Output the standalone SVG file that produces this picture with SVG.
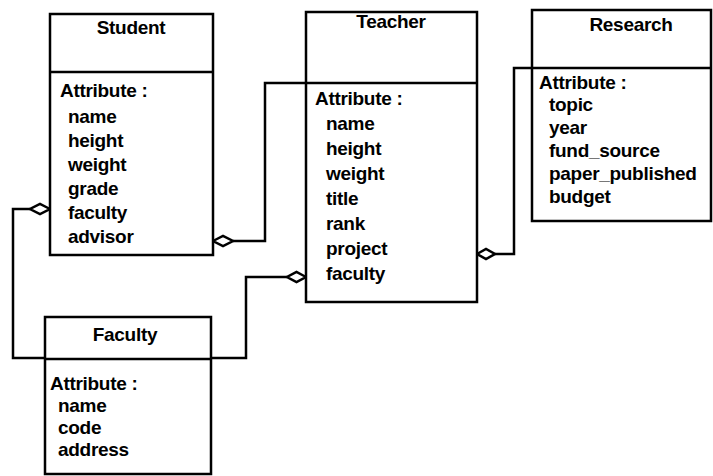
<svg xmlns="http://www.w3.org/2000/svg" width="713" height="476" viewBox="0 0 713 476">
<style>
  .box { fill: #ffffff; stroke: #000000; stroke-width: 2.5; }
  .div { stroke: #000000; stroke-width: 2.5; fill: none; }
  .t { font-family: "Liberation Sans", Arial, sans-serif; font-weight: bold; font-size: 19px; fill: #000000; letter-spacing: -0.3px; }
  .title { text-anchor: middle; }
  .conn { fill: none; stroke: #000000; stroke-width: 2.5; stroke-linejoin: miter; }
  .dia { fill: #ffffff; stroke: #000000; stroke-width: 2.5; }
</style>
<rect width="713" height="476" fill="#ffffff"/>

<g id="connectors">
  <polyline class="conn" points="30,209 13,209 13,358 45,358"/>
  <polygon class="dia" points="50,209 40,204 30,209 40,214"/>
  <polyline class="conn" points="233,241 265,241 265,83 306,83"/>
  <polygon class="dia" points="213,241 223,236 233,241 223,246"/>
  <polyline class="conn" points="287,277 246,277 246,358 211,358"/>
  <polygon class="dia" points="306,277 296.5,272 287,277 296.5,282"/>
  <polyline class="conn" points="495,254 514,254 514,68 532,68"/>
  <polygon class="dia" points="477,254 486,249 495,254 486,259"/>
</g>

<g id="student">
  <rect class="box" x="50" y="14" width="163" height="241"/>
  <line class="div" x1="50" y1="72" x2="213" y2="72"/>
  <text class="t title" x="131" y="34">Student</text>
  <text class="t" x="60" y="97">Attribute :</text>
  <text class="t" x="68" y="123">name</text>
  <text class="t" x="68" y="147">height</text>
  <text class="t" x="68" y="171">weight</text>
  <text class="t" x="68" y="195">grade</text>
  <text class="t" x="68" y="219">faculty</text>
  <text class="t" x="68" y="243">advisor</text>
</g>

<g id="teacher">
  <rect class="box" x="306" y="12" width="171" height="290"/>
  <line class="div" x1="306" y1="83" x2="477" y2="83"/>
  <text class="t title" x="391" y="28">Teacher</text>
  <text class="t" x="315" y="105">Attribute :</text>
  <text class="t" x="326" y="130">name</text>
  <text class="t" x="326" y="155">height</text>
  <text class="t" x="326" y="180">weight</text>
  <text class="t" x="326" y="205">title</text>
  <text class="t" x="326" y="230">rank</text>
  <text class="t" x="326" y="255">project</text>
  <text class="t" x="326" y="280">faculty</text>
</g>

<g id="research">
  <rect class="box" x="532" y="10" width="179" height="211"/>
  <line class="div" x1="532" y1="68" x2="711" y2="68"/>
  <text class="t title" x="631" y="31">Research</text>
  <text class="t" x="539" y="89">Attribute :</text>
  <text class="t" x="549" y="111">topic</text>
  <text class="t" x="549" y="134">year</text>
  <text class="t" x="549" y="157">fund_source</text>
  <text class="t" x="549" y="180">paper_published</text>
  <text class="t" x="549" y="203">budget</text>
</g>

<g id="faculty">
  <rect class="box" x="45" y="317" width="166" height="157"/>
  <line class="div" x1="45" y1="359" x2="211" y2="359"/>
  <text class="t title" x="125" y="341">Faculty</text>
  <text class="t" x="50" y="390">Attribute :</text>
  <text class="t" x="58" y="412">name</text>
  <text class="t" x="58" y="434">code</text>
  <text class="t" x="58" y="456">address</text>
</g>
</svg>
